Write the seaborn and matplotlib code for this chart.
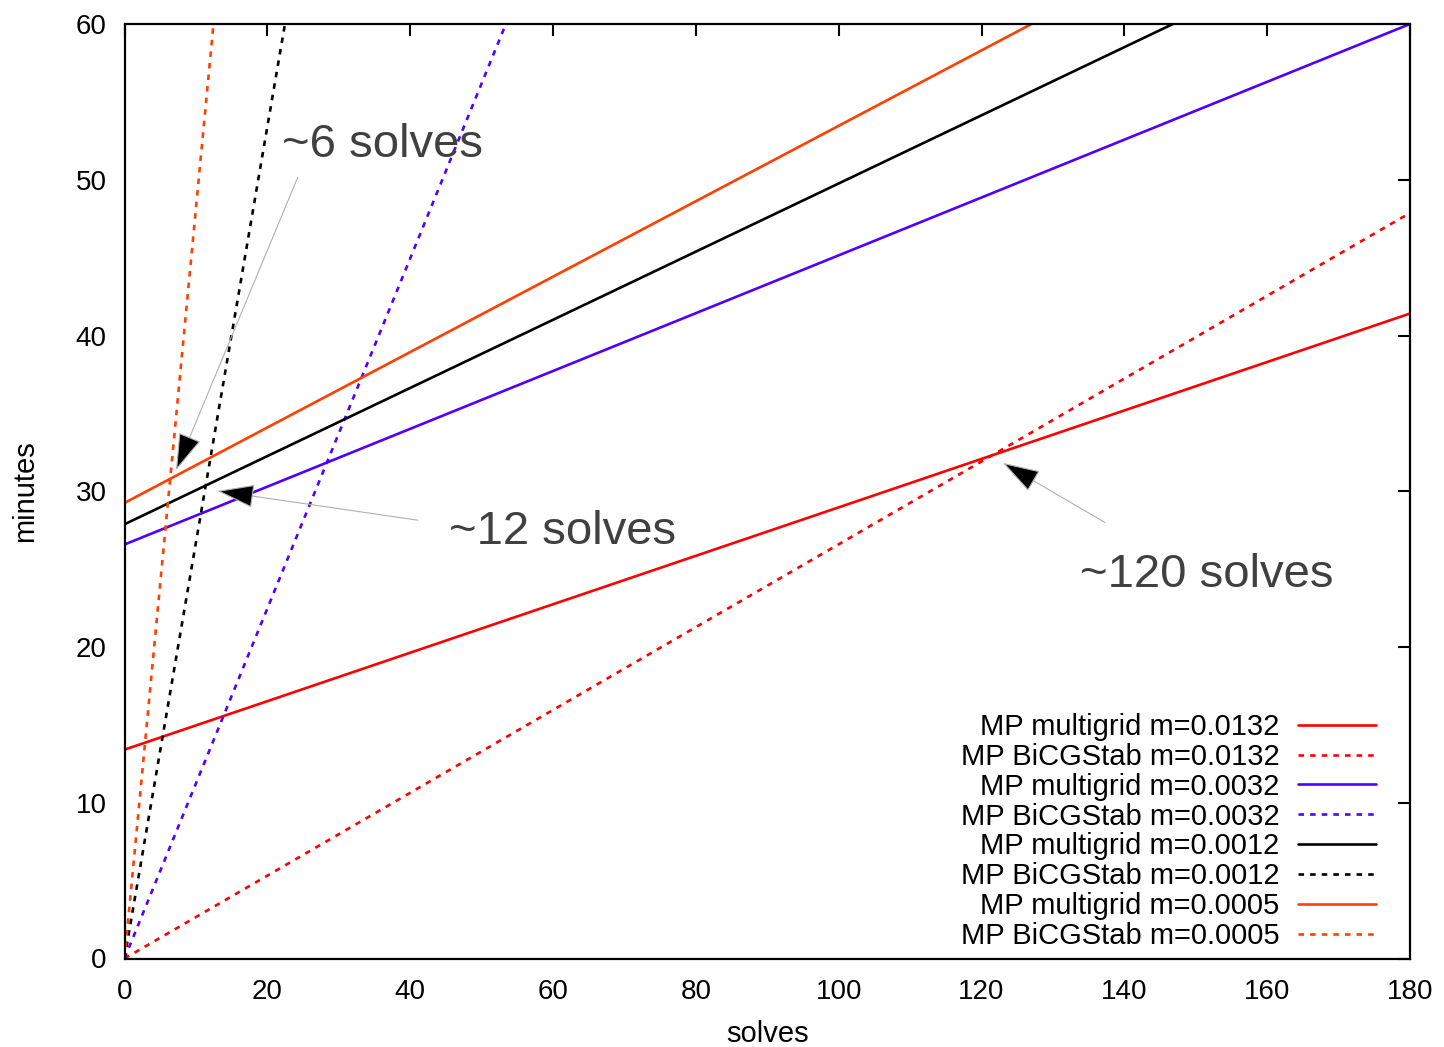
import numpy as np
import pandas as pd
import matplotlib
matplotlib.use("Agg")
import matplotlib.pyplot as plt
import seaborn as sns

# ---- data ----
labels = [
    "MP multigrid m=0.0132",
    "MP BiCGStab m=0.0132",
    "MP multigrid m=0.0032",
    "MP BiCGStab m=0.0032",
    "MP multigrid m=0.0012",
    "MP BiCGStab m=0.0012",
    "MP multigrid m=0.0005",
    "MP BiCGStab m=0.0005",
]
colors = ["#ff0000", "#ff0000", "#5000ff", "#5000ff",
          "#000000", "#000000", "#ff4000", "#ff4000"]
dashed = [False, True, False, True, False, True, False, True]
x_start = [0, 0, 0, 0, 0, 0, 0, 0]
y_start = [13.41, 0.0, 26.58, 0.0, 27.88, 0.0, 29.25, 0.0]
x_end = [180, 180, 180, 53.4, 146.8, 22.47, 127.0, 12.46]
y_end = [41.41, 47.87, 60, 60, 60, 60, 60, 60]

x_ticks = [0, 20, 40, 60, 80, 100, 120, 140, 160, 180]
y_ticks = [0, 10, 20, 30, 40, 50, 60]

notes = ["~6 solves", "~12 solves", "~120 solves"]
note_xy = [(22.1, 51.47), (45.5, 26.64), (133.8, 23.83)]
arrow_tail = [(24.25, 50.15), (41.1, 28.14), (137.3, 27.99)]
arrow_head = [(7.21, 31.35), (13.0, 30.02), (123.0, 31.82)]

# ---- style ----
sns.set_theme(style="white")
plt.rcParams["font.family"] = ["Liberation Sans", "DejaVu Sans"]
plt.rcParams["text.color"] = "black"
plt.rcParams["axes.labelcolor"] = "black"
plt.rcParams["xtick.color"] = "black"
plt.rcParams["ytick.color"] = "black"

fig = plt.figure(figsize=(14.44, 10.47), dpi=100)
ax = fig.add_axes([124.5 / 1444, 1 - 958.5 / 1047, 1285.5 / 1444, 934.5 / 1047])

for i, lab in enumerate(labels):
    df = pd.DataFrame({"solves": [x_start[i], x_end[i]],
                       "minutes": [y_start[i], y_end[i]]})
    kw = dict(linestyle=(0, (2.1, 2.3))) if dashed[i] else dict(linestyle="-")
    sns.lineplot(data=df, x="solves", y="minutes", ax=ax, color=colors[i],
                 linewidth=1.9, label=lab, **kw)

ax.set_xlim(0, 180)
ax.set_ylim(0, 60)
ax.set_xticks(x_ticks)
ax.set_yticks(y_ticks)
ax.tick_params(axis="both", direction="in", length=8.6, width=1.5,
               top=True, right=True, labelsize=20, colors="black")
ax.tick_params(axis="y", pad=13)
ax.tick_params(axis="x", pad=15)
for sp in ax.spines.values():
    sp.set_linewidth(1.6)
    sp.set_color("black")

ax.set_xlabel("solves", fontsize=21, labelpad=10.5, color="black")
ax.set_ylabel("minutes", fontsize=21, labelpad=26, color="black")

for t, xy, tail, head in zip(notes, note_xy, arrow_tail, arrow_head):
    ax.text(xy[0], xy[1], t, fontsize=34, color="#404040",
            ha="left", va="baseline")
    ax.annotate("", xy=head, xytext=tail,
                arrowprops=dict(arrowstyle="-|>,head_length=2.4,head_width=0.76",
                                mutation_scale=10, fc="black", ec="#b0b0b0",
                                lw=0.8, shrinkA=0, shrinkB=0))

leg = ax.legend(loc="lower right", bbox_to_anchor=(0.9736, 0.009),
                frameon=False, fontsize=21, markerfirst=False,
                handlelength=2.68, handletextpad=0.63, labelspacing=0.065,
                borderpad=0, borderaxespad=0)
for txt in leg.get_texts():
    txt.set_color("black")

fig.savefig("out.png", dpi=100)
